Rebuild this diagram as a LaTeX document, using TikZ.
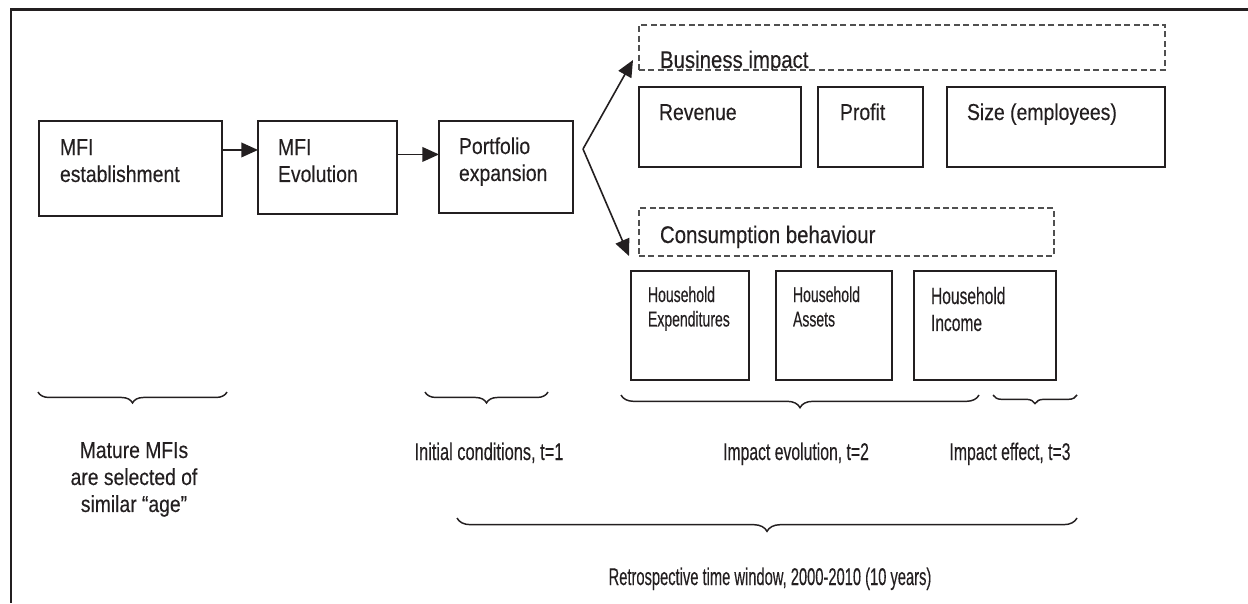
\documentclass[tikz,border=0pt]{standalone}
\usepackage{fontspec}
\setmainfont{Liberation Sans}
\usepackage{graphicx}
\usetikzlibrary{arrows.meta,decorations.pathreplacing,calc}
\definecolor{ink}{RGB}{35,31,32}
\definecolor{dgray}{RGB}{80,80,80}
% \lab{xscale}{yscale}{size}{skip}{align}{text}
\newcommand\lab[6]{\scalebox{#1}[#2]{\fontsize{#3}{#4}\selectfont\addfontfeatures{FakeBold=0.35}\begin{tabular}[t]{@{}#5@{}}#6\end{tabular}}}
\newcommand\bx[6]{\node[#6, minimum width={(#4-#2)*0.75pt}, minimum height={(#5-#3)*0.75pt}] (#1) at ({(#2+#4)/2},{(#3+#5)/2}) {};}
\tikzset{
  box/.style={draw=ink, line width=1.35pt, inner sep=0pt, outer sep=0pt},
  dbox/.style={draw=dgray, line width=0.9pt, dash pattern=on 4.5pt off 2.6pt, inner sep=0pt, outer sep=0pt},
  txt/.style={inner sep=0pt, outer sep=0pt, text=ink},
  arr/.style={draw=ink, line width=1.2pt, -{Triangle[length=12.5pt,width=11pt]}},
  brc/.style={draw=ink, line width=1.1pt, decorate, decoration={brace, mirror, amplitude=#1}},
  frame/.style={draw=ink, line width=1.9pt},
}
\begin{document}
\begin{tikzpicture}[x=0.75pt,y=-0.75pt]
\useasboundingbox (0,0) rectangle (1248,603);
% outer frame
\coordinate (fr1) at (1248,9.5);
\coordinate (fr2) at (11,9.5);
\coordinate (fr3) at (11,603);
\draw[frame] (fr1) -- (fr2) -- (fr3);

% main flow boxes
\bx{estab}{39}{121}{222}{216}{box}
\bx{evol}{258}{121}{397}{214}{box}
\bx{port}{439}{121}{573}{213}{box}
\node[txt, anchor=base west] (estabtxt) at (60,155) {\lab{0.97}{1.15}{15pt}{17.6pt}{l}{MFI\\establishment}};
\node[txt, anchor=base west] (evoltxt) at (278,155) {\lab{0.97}{1.15}{15pt}{17.6pt}{l}{MFI\\Evolution}};
\node[txt, anchor=base west] (porttxt) at (459,154) {\lab{0.97}{1.15}{15pt}{17.6pt}{l}{Portfolio\\expansion}};

\draw[arr] ([yshift=13.9pt]estab.east) coordinate (a1) -- (a1 -| evol.west);
\draw[arr] ([yshift=9.8pt]evol.east) coordinate (a2) -- (a2 -| port.west);

% split arrows
\coordinate (split) at (583,149);
\coordinate (tipA) at (633,60);
\coordinate (tipB) at (629,256);
\draw[arr] (split) -- (tipA);
\draw[arr] (split) -- (tipB);

% business impact
\bx{bus}{639}{25}{1165}{70}{dbox}
\begin{scope}
  \clip (640,20) rectangle (1160,69.6);
  \node[txt, anchor=base west] (bustxt) at (660,68) {\lab{1}{1.18}{15.3pt}{18pt}{l}{Business impact}};
\end{scope}
\bx{rev}{639}{87}{801}{167}{box}
\bx{prof}{818}{87}{923}{167}{box}
\bx{size}{947}{87}{1165}{167}{box}
\node[txt, anchor=base west] (revtxt) at (659,120) {\lab{0.97}{1.15}{15pt}{17.6pt}{l}{Revenue}};
\node[txt, anchor=base west] (proftxt) at (840,120) {\lab{0.97}{1.15}{15pt}{17.6pt}{l}{Profit}};
\node[txt, anchor=base west] (sizetxt) at (967,120) {\lab{0.97}{1.15}{15pt}{17.6pt}{l}{Size (employees)}};

% consumption behaviour
\bx{cons}{639}{208}{1054}{256}{dbox}
\node[txt, anchor=base west] (constxt) at (660,243) {\lab{1}{1.18}{15.3pt}{18pt}{l}{Consumption behaviour}};
\bx{hh1}{631}{271}{749}{380}{box}
\bx{hh2}{776}{271}{892}{380}{box}
\bx{hh3}{914}{271}{1056}{380}{box}
\node[txt, anchor=base west] (hh1txt) at (648,302) {\lab{0.72}{1.1}{14.6pt}{16.7pt}{l}{Household\\Expenditures}};
\node[txt, anchor=base west] (hh2txt) at (793,302) {\lab{0.72}{1.1}{14.6pt}{16.7pt}{l}{Household\\Assets}};
\node[txt, anchor=base west] (hh3txt) at (931,304) {\lab{0.73}{1.1}{16pt}{18.4pt}{l}{Household\\Income}};

% braces
\coordinate (b1a) at (38,392);  \coordinate (b1b) at (227,392);
\coordinate (b2a) at (425,392); \coordinate (b2b) at (548,392);
\coordinate (b3a) at (621,395); \coordinate (b3b) at (979,395);
\coordinate (b4a) at (993,395); \coordinate (b4b) at (1077,395);
\coordinate (b5a) at (457,518); \coordinate (b5b) at (1077,518);
\draw[brc=8.2pt] (b1a) -- (b1b);
\draw[brc=8.2pt] (b2a) -- (b2b);
\draw[brc=9.5pt] (b3a) -- (b3b);
\draw[brc=6.5pt] (b4a) -- (b4b);
\draw[brc=10pt] (b5a) -- (b5b);

% bottom labels
\node[txt, anchor=base] (mature) at (134,458) {\lab{0.92}{1.1}{15.75pt}{18.4pt}{c}{Mature MFIs\\are selected of\\similar “age”}};
\node[txt, anchor=base] (init) at (489,460) {\lab{0.78}{1.15}{15.75pt}{17.6pt}{c}{Initial conditions, t=1}};
\node[txt, anchor=base] (evo) at (796,460) {\lab{0.75}{1.15}{15.75pt}{17.6pt}{c}{Impact evolution, t=2}};
\node[txt, anchor=base] (eff) at (1010,460) {\lab{0.75}{1.15}{15.75pt}{17.6pt}{c}{Impact effect, t=3}};
\node[txt, anchor=base] (retro) at (770,585) {\lab{0.70}{1.15}{15.75pt}{17.6pt}{c}{Retrospective time window, 2000-2010 (10 years)}};
\end{tikzpicture}
\end{document}
